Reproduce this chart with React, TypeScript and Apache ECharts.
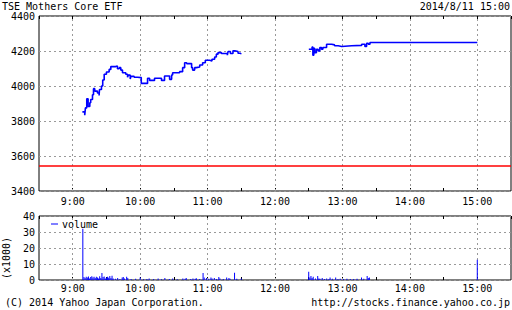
import React, { useEffect, useRef } from "react";
import * as echarts from "echarts";

// minutes of day (8:30 = 510 ... 15:30 = 930)
const xMin = 510;
const xMax = 930;
const hourTicks = [540, 600, 660, 720, 780, 840, 900];
const titleText = "TSE Mothers Core ETF";
const dateText = "2014/8/11 15:00";
const copyText = "(C) 2014 Yahoo Japan Corporation.";
const urlText = "http://stocks.finance.yahoo.co.jp";
const prevClose = 3542;

// [minute, price] — step line, price holds until next point
const morningPrices: [number, number][] = [
  [548.6, 3852], [550.7, 3833], [551.3, 3875], [552.5, 3927], [553.7, 3883],
  [555.2, 3904], [556, 3923], [557.6, 3950], [558.5, 3985], [559.6, 3971],
  [562, 3960], [563.5, 3946], [563.8, 3980], [565.6, 4000], [566.7, 4034],
  [568, 4067], [570, 4080], [572.4, 4095], [573.9, 4111], [578.3, 4115],
  [579.8, 4099], [581.4, 4105], [582.8, 4091], [584.3, 4076], [587.2, 4067],
  [588.8, 4050], [589.4, 4062], [591.2, 4040], [591.7, 4055], [594.7, 4050],
  [597.7, 4048], [601, 4015], [606.6, 4044], [608.4, 4032], [612.8, 4044],
  [619, 4032], [621.7, 4057], [626.2, 4038], [628, 4063], [628.9, 4076],
  [635.1, 4082], [637.8, 4105], [639.6, 4133], [641.4, 4128], [645.8, 4105],
  [646.7, 4091], [648.5, 4105], [650, 4109], [653, 4120], [655.6, 4133],
  [658, 4147], [661.9, 4143], [663.9, 4153], [666.3, 4166], [667.8, 4182],
  [669.3, 4191], [672.3, 4186], [677.6, 4176], [678.2, 4197], [680.3, 4186],
  [682.6, 4201], [684.2, 4197], [687.1, 4187], [689.5, 4182],
];
const afternoonPrices: [number, number][] = [
  [750.1, 4210], [753, 4223], [753.7, 4176], [754.5, 4215], [755.4, 4191],
  [756.9, 4210], [758.4, 4201], [759.9, 4220], [761.4, 4210], [762.6, 4220],
  [765.9, 4239], [770.4, 4235], [773, 4230], [776.2, 4226], [779.3, 4230],
  [788.2, 4232], [797.1, 4239], [800, 4226], [801.5, 4244], [803, 4239],
  [804.5, 4249], [900, 4249],
];

// [minute, volume (x1000)]
const volumes: [number, number][] = [
  [549, 32], [550, 1.8], [551, 1.2], [552, 2.0], [553, 1.5], [554, 2.2], [555, 1.0],
  [556, 1.8], [557, 2.3], [558, 1.5], [559, 2.0], [560, 1.2], [561, 2.1], [562, 1.6],
  [563, 1.0], [564, 2.4], [565, 1.3], [566, 4.3], [567, 1.8], [568, 2.2], [569, 1.0],
  [570, 1.6], [571, 2.0], [572, 1.4], [573, 2.5], [574, 1.2], [575, 2.6], [576, 1.0],
  [578, 0.8], [580, 1.2], [582, 0.7], [584, 1.5], [585, 1.8], [586, 1.0], [588, 2.0],
  [589, 1.2], [592, 0.6], [596, 0.8], [600, 1.5], [603, 0.5], [606, 0.7], [608, 1.0],
  [612, 0.6], [616, 1.0], [619, 0.5], [622, 1.2], [626, 0.6], [629, 1.0], [633, 0.5],
  [638, 1.0], [640, 0.8], [641, 1.2], [645, 0.6], [647, 1.0], [649, 0.8], [650, 1.1],
  [653, 0.6], [656, 4.3], [657, 1.5], [659, 1.2], [661, 0.8], [663, 1.6], [664, 1.0],
  [666, 1.2], [668, 0.7], [670, 1.8], [671, 1.0], [674, 0.6], [677, 1.5], [679, 1.2],
  [680, 0.8], [684, 4.5], [686, 0.8], [690, 1.0],
  [750, 5.2], [751, 1.5], [752, 2.5], [753, 1.2], [754, 2.0], [756, 1.0], [758, 2.5],
  [759, 1.0], [760, 0.8], [762, 1.2], [764, 0.7], [766, 1.0], [768, 0.6], [769, 1.5],
  [771, 0.8], [774, 1.5], [776, 0.7], [778, 0.8], [781, 0.6], [784, 0.8], [787, 0.6],
  [790, 0.7], [793, 0.8], [797, 1.5], [799, 0.8], [802, 2.5], [803, 1.2], [804, 1.5],
  [900, 12.6],
];

const FONT = "DejaVu Sans Mono";
const gridLineStyle = { color: "#999", type: [2, 3] as number[], width: 1 };

export default function App() {
  const ref = useRef<HTMLDivElement>(null);
  useEffect(() => {
    if (!ref.current) return;
    const chart = echarts.init(ref.current, null, { renderer: "svg" });
    const hourLabel = (v: number) =>
      v % 60 === 0 && v >= 540 && v <= 900 ? `${v / 60}:00` : "";
    const xBase = (gridIndex: number, position: string, labels: boolean, margin: number) => ({
      type: "value",
      gridIndex,
      position,
      min: xMin,
      max: xMax,
      interval: 30,
      axisLine: { show: false },
      axisTick: { show: true, inside: true, length: 3, lineStyle: { color: "#000" } },
      axisLabel: {
        show: labels,
        formatter: hourLabel,
        color: "#000",
        fontFamily: FONT,
        fontSize: 10,
        margin,
        showMinLabel: false,
        showMaxLabel: false,
      },
      splitLine: { show: false },
    });
    const vGrid = hourTicks.map((t) => ({ xAxis: t, lineStyle: gridLineStyle }));
    const plain = (v: number) => String(v);
    chart.setOption({
      animation: false,
      textStyle: { fontFamily: FONT },
      grid: [
        { left: 39, top: 16, width: 472, height: 175, show: true, borderColor: "#000", borderWidth: 1, backgroundColor: "transparent" },
        { left: 39, top: 216, width: 472, height: 64, show: true, borderColor: "#000", borderWidth: 1, backgroundColor: "transparent" },
      ],
      xAxis: [
        xBase(0, "bottom", true, 5),
        xBase(0, "top", false, 5),
        xBase(1, "bottom", true, 3),
        xBase(1, "top", false, 3),
      ],
      yAxis: [
        {
          type: "value",
          gridIndex: 0,
          min: 3400,
          max: 4400,
          interval: 200,
          axisLine: { show: false },
          axisTick: { show: false },
          axisLabel: { color: "#000", fontFamily: FONT, fontSize: 10, margin: 4, formatter: plain },
          splitLine: { show: true, lineStyle: gridLineStyle },
        },
        {
          type: "value",
          gridIndex: 1,
          min: 0,
          max: 40,
          interval: 10,
          axisLine: { show: false },
          axisTick: { show: false },
          axisLabel: { color: "#000", fontFamily: FONT, fontSize: 10, margin: 4, formatter: plain },
          splitLine: { show: true, lineStyle: gridLineStyle },
        },
      ],
      legend: {
        data: [{ name: "volume", icon: "rect" }],
        left: 51,
        top: 219,
        itemWidth: 7,
        itemHeight: 1,
        itemGap: 4,
        textStyle: { color: "#000", fontFamily: FONT, fontSize: 10, padding: [0, 0, 0, -1] },
        padding: 0,
      },
      series: [
        {
          name: "price",
          type: "line",
          xAxisIndex: 0,
          yAxisIndex: 0,
          step: "end",
          showSymbol: false,
          symbol: "none",
          lineStyle: { color: "#0000ff", width: 1.6 },
          itemStyle: { color: "#0000ff" },
          data: morningPrices,
          z: 3,
          markLine: {
            silent: true,
            symbol: "none",
            z: 1,
            label: { show: false },
            data: [
              ...vGrid,
              { yAxis: prevClose, lineStyle: { color: "#ff0000", type: "solid", width: 1.5 } },
            ],
          },
        },
        {
          name: "price2",
          type: "line",
          xAxisIndex: 0,
          yAxisIndex: 0,
          step: "end",
          showSymbol: false,
          symbol: "none",
          lineStyle: { color: "#0000ff", width: 1.6 },
          itemStyle: { color: "#0000ff" },
          data: afternoonPrices,
          z: 3,
        },
        {
          name: "volume",
          type: "bar",
          xAxisIndex: 2,
          yAxisIndex: 1,
          barWidth: 1,
          itemStyle: { color: "#0000ff" },
          data: volumes,
          z: 3,
          markLine: {
            silent: true,
            symbol: "none",
            z: 1,
            label: { show: false },
            data: vGrid,
          },
        },
      ],
      graphic: [
        { type: "text", left: 2, top: 1, style: { text: titleText, font: `10px '${FONT}'`, fill: "#000" } },
        { type: "text", right: 2, top: 1, style: { text: dateText, font: `10px '${FONT}'`, fill: "#000" } },
        { type: "text", left: 5, top: 297, style: { text: copyText, font: `10px '${FONT}'`, fill: "#000" } },
        { type: "text", right: 2, top: 297, style: { text: urlText, font: `10px '${FONT}'`, fill: "#000" } },
        {
          type: "text",
          x: 1,
          y: 258,
          rotation: Math.PI / 2,
          style: { text: "(x1000)", font: `10px '${FONT}'`, fill: "#000", align: "center", verticalAlign: "top" },
        },
      ],
    });
    return () => chart.dispose();
  }, []);
  return (
    <div
      ref={ref}
      style={{ position: "fixed", left: 0, top: 0, width: 512, height: 310, background: "#fff" }}
    />
  );
}
